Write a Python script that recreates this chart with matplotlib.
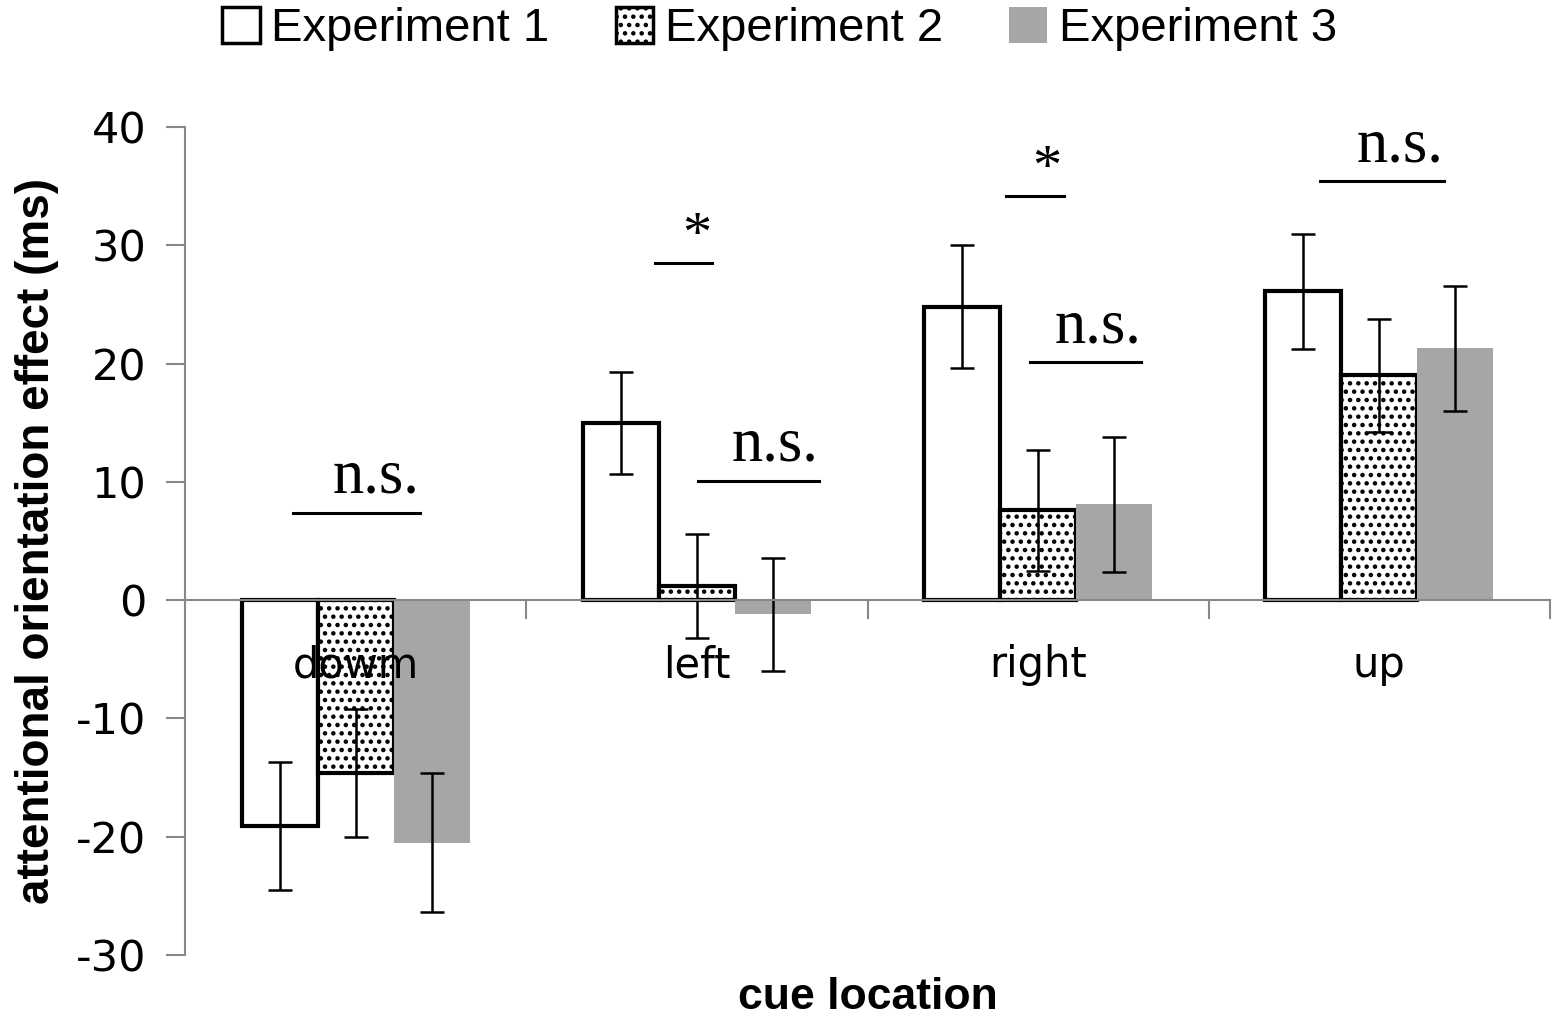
import numpy as np
import matplotlib
matplotlib.use("Agg")
import matplotlib.pyplot as plt
from matplotlib.patches import Patch

plt.rcParams['hatch.linewidth'] = 2.0
plt.rcParams['axes.unicode_minus'] = False

categories = ['dowm', 'left', 'right', 'up']
series = ['Experiment 1', 'Experiment 2', 'Experiment 3']
exp1 = [-19.1, 15.0, 24.8, 26.1]
exp2 = [-14.6, 1.2, 7.6, 19.0]
exp3 = [-20.5, -1.2, 8.1, 21.3]
err1 = [5.4, 4.3, 5.2, 4.85]
err2 = [5.4, 4.4, 5.1, 4.75]
err3 = [5.9, 4.75, 5.7, 5.3]

# significance marks: (x0, x1, y line, label, x text, y text)
marks = [
    (-0.184, 0.189, 7.35, 'n.s.', 0.06, 7.9),
    (0.877, 1.044, 28.5, '*', 1.0, 28.5),
    (1.003, 1.358, 10.06, 'n.s.', 1.229, 10.6),
    (1.906, 2.076, 34.15, '*', 2.026, 34.2),
    (1.976, 2.301, 20.1, 'n.s.', 2.175, 20.6),
    (2.826, 3.19, 35.4, 'n.s.', 3.06, 35.9),
]

sans = ['Liberation Sans Narrow', 'Liberation Sans', 'DejaVu Sans']

fig = plt.figure(figsize=(15.59, 10.21), dpi=100)
ax = fig.add_axes([0.1187, 0.0646, 0.8755, 0.811])

x = np.arange(len(categories))
w = 0.223
ekw = dict(ecolor='black', elinewidth=1.8, capsize=8.5, capthick=1.8)
ax.bar(x - w, exp1, w, color='white', edgecolor='black', linewidth=3,
       yerr=err1, error_kw=ekw, zorder=2)
ax.bar(x, exp2, w, color='white', edgecolor='black', linewidth=3, hatch='..',
       yerr=err2, error_kw=ekw, zorder=2)
ax.bar(x + w, exp3, w, color='#a6a6a6', edgecolor='none',
       yerr=err3, error_kw=ekw, zorder=2)

ax.set_xlim(-0.5, 3.5)
ax.set_ylim(-30, 40)
ax.set_yticks(range(-30, 41, 10))
ax.tick_params(axis='y', direction='out', length=14, width=1.5, color='#888888',
               labelsize=31, pad=14)
ax.spines['left'].set_color('#888888')
ax.spines['left'].set_linewidth(1.5)
ax.spines['bottom'].set_position(('data', 0))
ax.spines['bottom'].set_color('#888888')
ax.spines['bottom'].set_linewidth(1.5)
ax.spines['top'].set_visible(False)
ax.spines['right'].set_visible(False)
ax.set_xticks([0.5, 1.5, 2.5, 3.5])
ax.set_xticklabels([])
ax.tick_params(axis='x', direction='out', length=14, width=1.5, color='#888888')

for i, c in enumerate(categories):
    ax.text(i, -5.5, c, ha='center', va='center', fontsize=30, zorder=3)

for x0, x1, yl, lab, xt, yt in marks:
    ax.plot([x0, x1], [yl, yl], color='black', lw=2.2, zorder=3)
    ax.text(xt, yt, lab, ha='center', va='bottom',
            fontsize=42 if lab == '*' else 45, family='Liberation Serif')

ax.set_ylabel('attentional orientation effect (ms)', fontsize=33,
              fontweight='bold', family=sans, labelpad=12)
fig.text(0.557, 0.023, 'cue location', ha='center', va='center', fontsize=32,
         fontweight='bold', family=sans)

handles = [Patch(facecolor='white', edgecolor='black', linewidth=2.5),
           Patch(facecolor='white', edgecolor='black', linewidth=2.5, hatch='..'),
           Patch(facecolor='#a6a6a6', edgecolor='none')]
fig.legend(handles, series, loc='upper center', bbox_to_anchor=(0.5, 1.035),
           ncol=3, frameon=False, prop={'family': sans, 'size': 34},
           handlelength=0.8, handleheight=0.8, handletextpad=0.25,
           columnspacing=1.4)

fig.savefig('out.png', dpi=100)
